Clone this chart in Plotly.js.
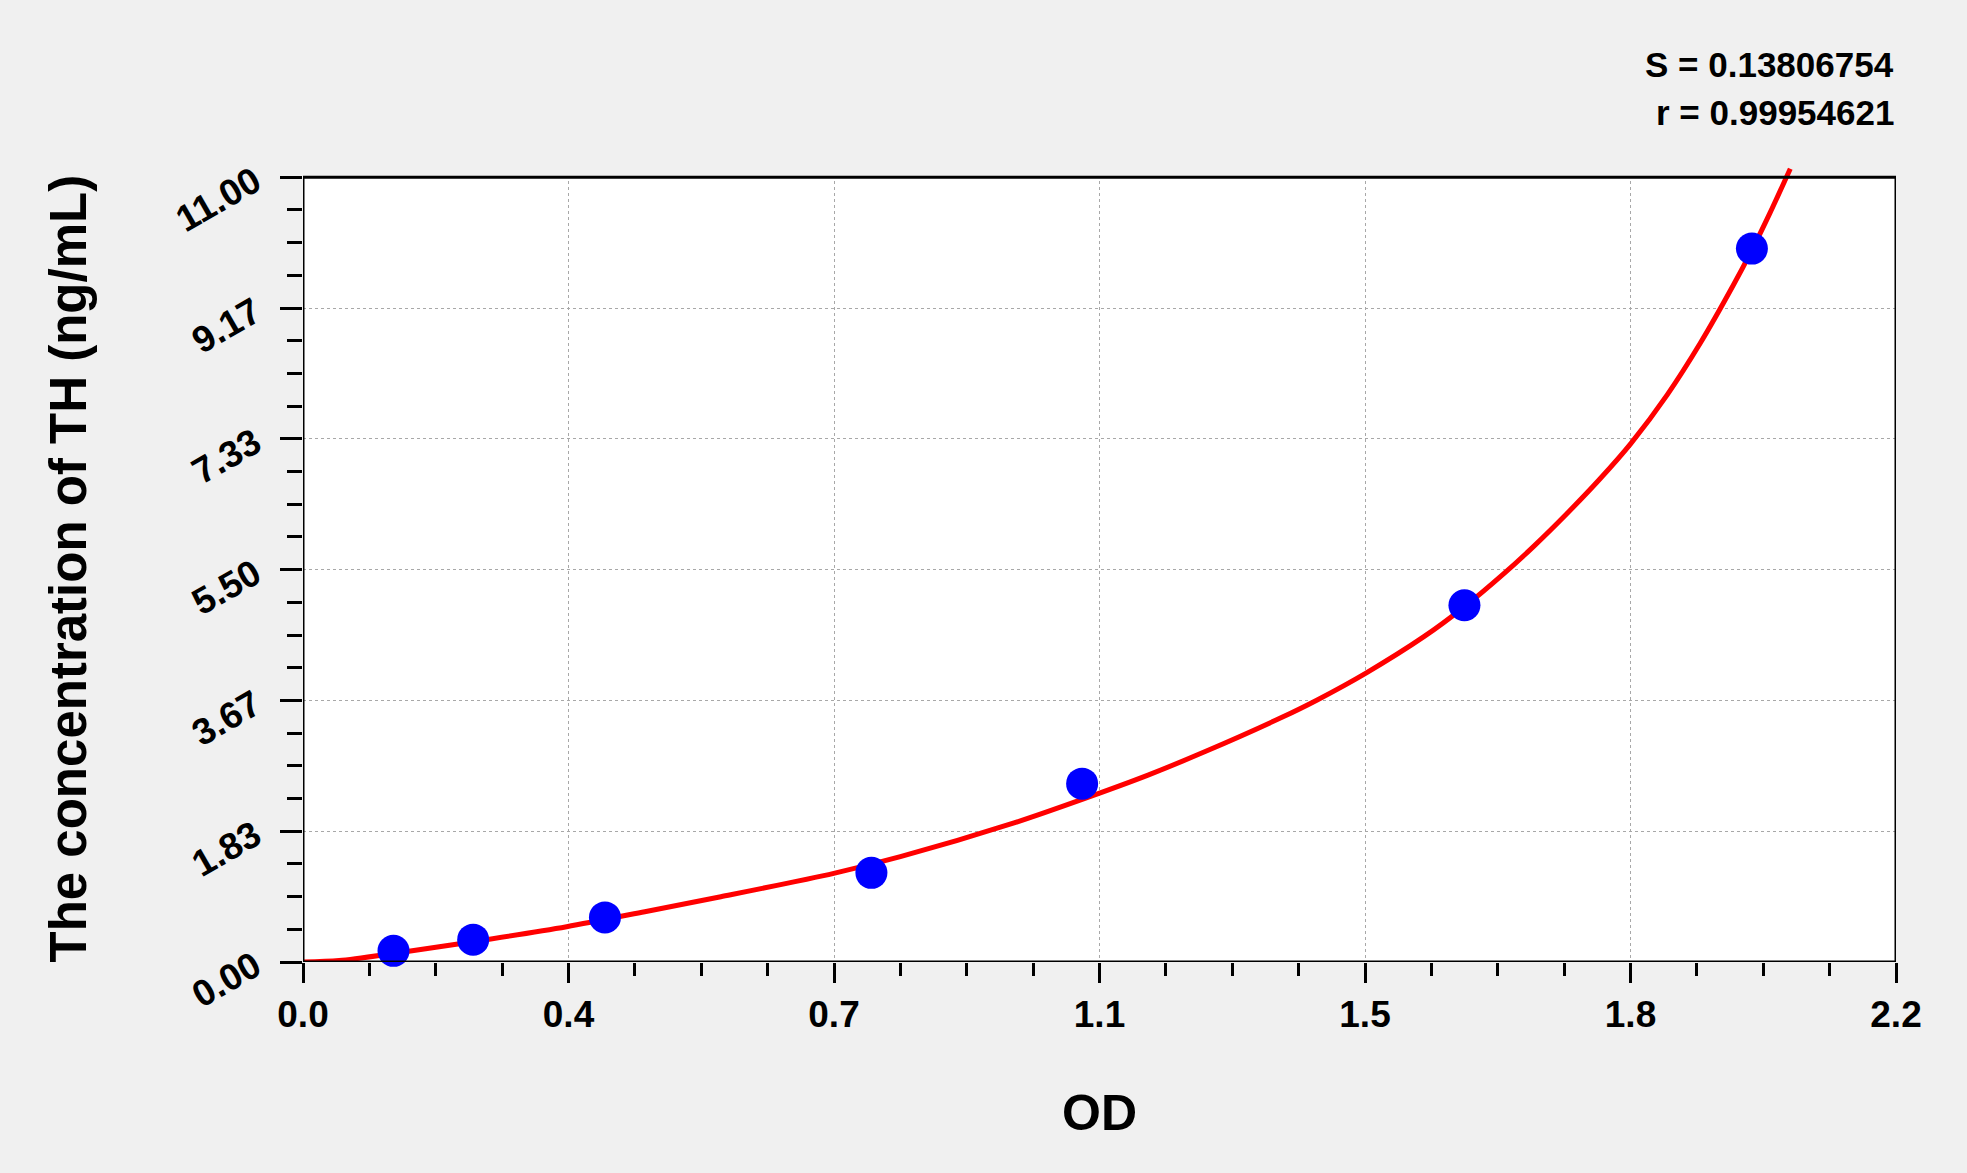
<!DOCTYPE html>
<html>
<head>
<meta charset="utf-8">
<script src="https://cdn.plot.ly/plotly-3.0.1.min.js"></script>
<style>
  html, body { margin: 0; padding: 0; background: #f0f0f0; }
  #th-curve { width: 1967px; height: 1173px; }
</style>
</head>
<body>
<div id="th-curve"></div>
<script>
// standards (OD vs concentration)
var stdOD = [0.125, 0.235, 0.417, 0.785, 1.076, 1.604, 2.001];
var stdConc = [0.156, 0.313, 0.625, 1.25, 2.5, 5, 10];

// fitted curve
var fitOD = [0, 0.05, 0.125, 0.235, 0.364, 0.472, 0.577, 0.733, 0.825, 0.982, 1.076, 1.167,
             1.246, 1.352, 1.4, 1.468, 1.548, 1.604, 1.658, 1.70, 1.745, 1.791, 1.834, 1.884,
             1.93, 1.976, 2.001, 2.026, 2.054];
var fitConc = [0, 0.02, 0.12, 0.285, 0.495, 0.705, 0.915, 1.243, 1.476, 1.95, 2.28, 2.62,
               2.95, 3.43, 3.67, 4.05, 4.56, 4.98, 5.44, 5.83, 6.28, 6.77, 7.27, 7.95,
               8.68, 9.5, 9.98, 10.5, 11.12];

var xTickText = ['0.0', '0.4', '0.7', '1.1', '1.5', '1.8', '2.2'];
var yTickText = ['0.00', '1.83', '3.67', '5.50', '7.33', '9.17', '11.00'];
var xMax = 2.2;
var yMax = 11;
var yTop = 11.2;   // a little headroom so the curve runs past the frame

var xTickVals = xTickText.map(function (t, i) { return i * xMax / 6; });
var yTickVals = yTickText.map(function (t, i) { return i * yMax / 6; });

function minorBetween(vals) {
    var out = [];
    for (var i = 0; i < vals.length - 1; i++) {
        var step = (vals[i + 1] - vals[i]) / 4;
        for (var k = 1; k < 4; k++) out.push(vals[i] + k * step);
    }
    return out;
}

var fontFam = 'Arial, "Liberation Sans", sans-serif';
var tickFont = { family: fontFam, size: 37, color: '#000', weight: 'bold' };

var curve = {
    x: fitOD,
    y: fitConc,
    type: 'scatter',
    mode: 'lines',
    line: { color: '#ff0000', width: 5, shape: 'spline', smoothing: 0.8 },
    hoverinfo: 'skip'
};

var points = {
    x: stdOD,
    y: stdConc,
    type: 'scatter',
    mode: 'markers',
    marker: { color: '#0000ff', size: 32 },
    cliponaxis: false
};

var layout = {
    width: 1967,
    height: 1173,
    paper_bgcolor: '#f0f0f0',
    plot_bgcolor: '#f0f0f0',
    showlegend: false,
    margin: { l: 303, r: 71, t: 163, b: 211 },
    font: { family: fontFam, color: '#000' },
    xaxis: {
        range: [0, xMax],
        tickmode: 'array',
        tickvals: xTickVals,
        ticktext: xTickText,
        ticks: 'outside',
        ticklen: 20,
        tickwidth: 3,
        tickcolor: '#000',
        tickfont: tickFont,
        showline: false,
        zeroline: false,
        showgrid: true,
        gridcolor: '#a8a8a8',
        gridwidth: 1,
        griddash: '3px,3px',
        minor: {
            tickmode: 'array',
            tickvals: minorBetween(xTickVals),
            ticks: 'outside',
            ticklen: 13,
            tickwidth: 3,
            tickcolor: '#000',
            showgrid: false
        },
        title: {
            text: 'OD',
            font: { family: fontFam, size: 50, color: '#000', weight: 'bold' },
            standoff: 60
        }
    },
    yaxis: {
        range: [0, yTop],
        tickmode: 'array',
        tickvals: yTickVals,
        ticktext: yTickText,
        tickangle: -30,
        ticks: 'outside',
        ticklen: 22,
        tickwidth: 3,
        tickcolor: '#000',
        tickfont: tickFont,
        ticklabelstandoff: 18,
        showline: false,
        zeroline: false,
        showgrid: true,
        gridcolor: '#a8a8a8',
        gridwidth: 1,
        griddash: '3px,3px',
        minor: {
            tickmode: 'array',
            tickvals: minorBetween(yTickVals),
            ticks: 'outside',
            ticklen: 15,
            tickwidth: 3,
            tickcolor: '#000',
            showgrid: false
        },
        title: { text: '' }
    },
    shapes: [
        {
            type: 'rect', xref: 'x', yref: 'y', x0: 0, x1: xMax, y0: 0, y1: yMax,
            fillcolor: '#ffffff', line: { width: 0 }, layer: 'below'
        },
        {
            // hide the grid in the headroom strip above the frame
            type: 'rect', xref: 'x', yref: 'y', x0: 0, x1: xMax, y0: yMax, y1: yTop,
            fillcolor: '#f0f0f0', line: { width: 0 }, layer: 'between'
        },
        {
            type: 'rect', xref: 'x', yref: 'y', x0: 0, x1: xMax, y0: 0, y1: yMax,
            fillcolor: 'rgba(0,0,0,0)', line: { color: '#000', width: 3 }, layer: 'above'
        }
    ],
    annotations: [
        {
            text: 'The concentration of TH (ng/mL)', xref: 'paper', yref: 'paper',
            x: -0.1469, y: 0.4925, textangle: -90,
            xanchor: 'center', yanchor: 'middle', showarrow: false,
            font: { family: fontFam, size: 51, color: '#000', weight: 'bold' }
        },
        {
            text: 'S = 0.13806754', xref: 'paper', yref: 'paper', x: 1, y: 1.1239,
            xanchor: 'right', yanchor: 'middle', showarrow: false,
            font: { family: fontFam, size: 35, color: '#000', weight: 'bold' }
        },
        {
            text: 'r = 0.99954621', xref: 'paper', yref: 'paper', x: 1, y: 1.0626,
            xanchor: 'right', yanchor: 'middle', showarrow: false,
            font: { family: fontFam, size: 35, color: '#000', weight: 'bold' }
        }
    ]
};

var config = { staticPlot: true, displayModeBar: false };

Plotly.newPlot('th-curve', [curve, points], layout, config);
</script>
</body>
</html>
